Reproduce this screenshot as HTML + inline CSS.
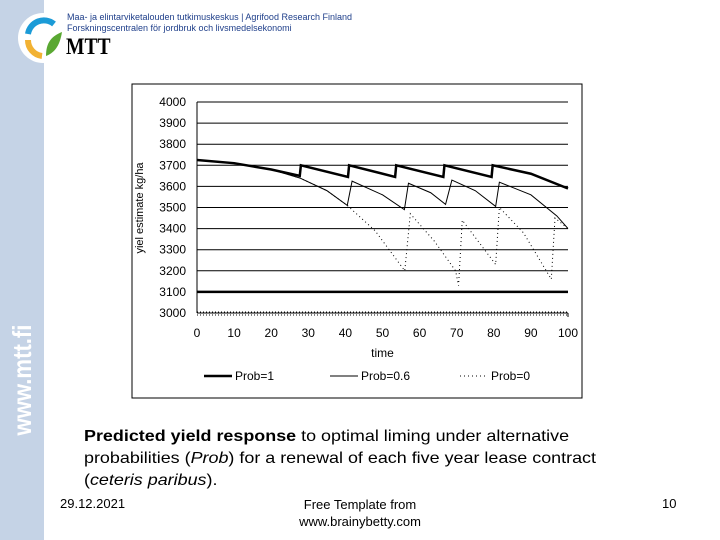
<!DOCTYPE html>
<html><head><meta charset="utf-8"><style>
body{margin:0;width:720px;height:540px;background:#fff;position:relative;overflow:hidden;font-family:"Liberation Sans",sans-serif}
.abs{position:absolute}
</style></head><body>
<div class="abs" style="left:0;top:0;width:44px;height:540px;background:#c5d3e6"></div>
<div class="abs" style="left:-50px;top:365px;width:144px;height:30px;transform:rotate(-90deg) scaleX(0.85);color:#fff;font-size:26px;font-weight:bold;text-align:center;line-height:30px">www.mtt.fi</div>
<svg class="abs" style="left:18px;top:12px" width="50" height="52">
<circle cx="25" cy="26" r="25" fill="#fff"/>
<path d="M36 12 A16 16 0 0 0 10 22" stroke="#1b9bd7" stroke-width="6" fill="none"/>
<path d="M10 28 A16 16 0 0 0 24 44" stroke="#f2b233" stroke-width="6" fill="none"/>
<path d="M28 44 C28 30 34 24 44 20 C42 32 38 40 28 44Z" fill="#5aa832"/>
</svg>
<div class="abs" style="left:67px;top:12px;font-size:9px;color:#1f3f8a;line-height:11px">Maa- ja elintarviketalouden tutkimuskeskus | Agrifood Research Finland<br>Forskningscentralen för jordbruk och livsmedelsekonomi</div>
<div class="abs" style="left:66px;top:34px;font-family:'Liberation Serif',serif;font-weight:bold;font-size:23px;transform:scaleX(0.85);transform-origin:left">MTT</div>

<svg class="abs" style="left:0;top:0" width="720" height="540" id="chart">
<rect x="132" y="84" width="450" height="314" fill="#fff" stroke="#000" stroke-width="1"/>
<g id="grid"></g><g id="series"></g><g id="labels" font-size="12" font-family="Liberation Sans, sans-serif"></g>
</svg>

<div class="abs" style="left:84px;top:426px;width:600px;font-size:16px;line-height:22px;white-space:nowrap;transform:scaleX(1.12);transform-origin:left">
<b>Predicted yield response</b> to optimal liming under alternative<br>probabilities (<i>Prob</i>) for a renewal of each five year lease contract<br>(<i>ceteris paribus</i>).</div>
<div class="abs" style="left:60px;top:496px;font-size:13px">29.12.2021</div>
<div class="abs" style="left:260px;top:496px;width:200px;text-align:center;font-size:13px;line-height:17px">Free Template from<br>www.brainybetty.com</div>
<div class="abs" style="left:662px;top:496px;font-size:13px">10</div>

<script>
const yTicks=[3000,3100,3200,3300,3400,3500,3600,3700,3800,3900,4000];
const xTicks=[0,10,20,30,40,50,60,70,80,90,100];
const seriesNames=["Prob=1","Prob=0.6","Prob=0"];
const tP1=[0,10,20,27.7,28,40.7,41,53.4,53.7,66.4,66.7,79.4,79.7,90,100];
const vP1=[3725,3710,3680,3650,3700,3645,3700,3645,3700,3645,3700,3645,3700,3660,3590];
const tP06=[0,10,20,27.7,35,40.5,41.8,50,55.9,57,63,67,68.7,75,80.5,81.5,90,97,100];
const vP06=[3725,3710,3680,3640,3580,3510,3625,3560,3490,3615,3570,3515,3630,3580,3505,3620,3560,3460,3400];
const tP0=[0,10,20,27.7,35,40.5,48,56,57.5,64,69.7,70.5,71.5,80.5,81.5,88,95.5,96.5,100];
const vP0=[3725,3710,3680,3640,3580,3510,3390,3200,3470,3340,3200,3130,3440,3230,3500,3380,3160,3450,3400];
const NS="http://www.w3.org/2000/svg";
const X=t=>197+t*3.71, Y=v=>313-(v-3000)*0.211;
function mk(tag,attrs,parent){const e=document.createElementNS(NS,tag);for(const k in attrs)e.setAttribute(k,attrs[k]);parent.appendChild(e);return e;}
const grid=document.getElementById('grid'),lab=document.getElementById('labels'),ser=document.getElementById('series');
yTicks.forEach(v=>{
 const l=mk('line',{x1:X(0),x2:X(100),y1:Y(v),y2:Y(v),stroke:'#000','stroke-width':v===3100?2.5:1},grid);
 
 
 const t=mk('text',{x:186,y:Y(v)+4,'text-anchor':'end'},lab);t.textContent=v;
 
 
});
const ax=mk('line',{x1:X(0),x2:X(0),y1:Y(4000),y2:Y(3000),stroke:'#000'},grid);


const bx=mk('rect',{x:X(0),y:Y(3000)-1,width:X(100)-X(0),height:3,fill:'none',stroke:'#000','stroke-dasharray':'1 2'},grid);


mk('line',{x1:X(100),x2:X(100),y1:Y(3000),y2:Y(3000)+4,stroke:'#000'},grid);
xTicks.forEach(v=>{
 const t=mk('text',{x:X(v),y:337,'text-anchor':'middle'},lab);t.textContent=v;
 
 
});
let tt=mk('text',{x:X(50),y:357,'text-anchor':'middle'},lab);tt.textContent='time';


let yt=mk('text',{x:0,y:0,'text-anchor':'middle','font-size':11,transform:'translate(143,208) rotate(-90)'},lab);yt.textContent='yiel estimate kg/ha';


const styles=[{w:2.5,d:''},{w:1,d:''},{w:1,d:'1 3'}];
[[tP1,vP1],[tP06,vP06],[tP0,vP0]].forEach((s,i)=>{
 const p=s[0].map((t,j)=>X(t)+','+Y(s[1][j])).join(' ');
 const pl=mk('polyline',{points:p,fill:'none',stroke:'#000','stroke-width':styles[i].w,'stroke-dasharray':styles[i].d},ser);
 
 
 const lx=[204,330,460][i];
 const ll=mk('line',{x1:lx,x2:lx+28,y1:376,y2:376,stroke:'#000','stroke-width':styles[i].w,'stroke-dasharray':styles[i].d},lab);
 
 
 const lt=mk('text',{x:lx+31,y:380},lab);lt.textContent=seriesNames[i];
 
 
});
</script>
</body></html>
